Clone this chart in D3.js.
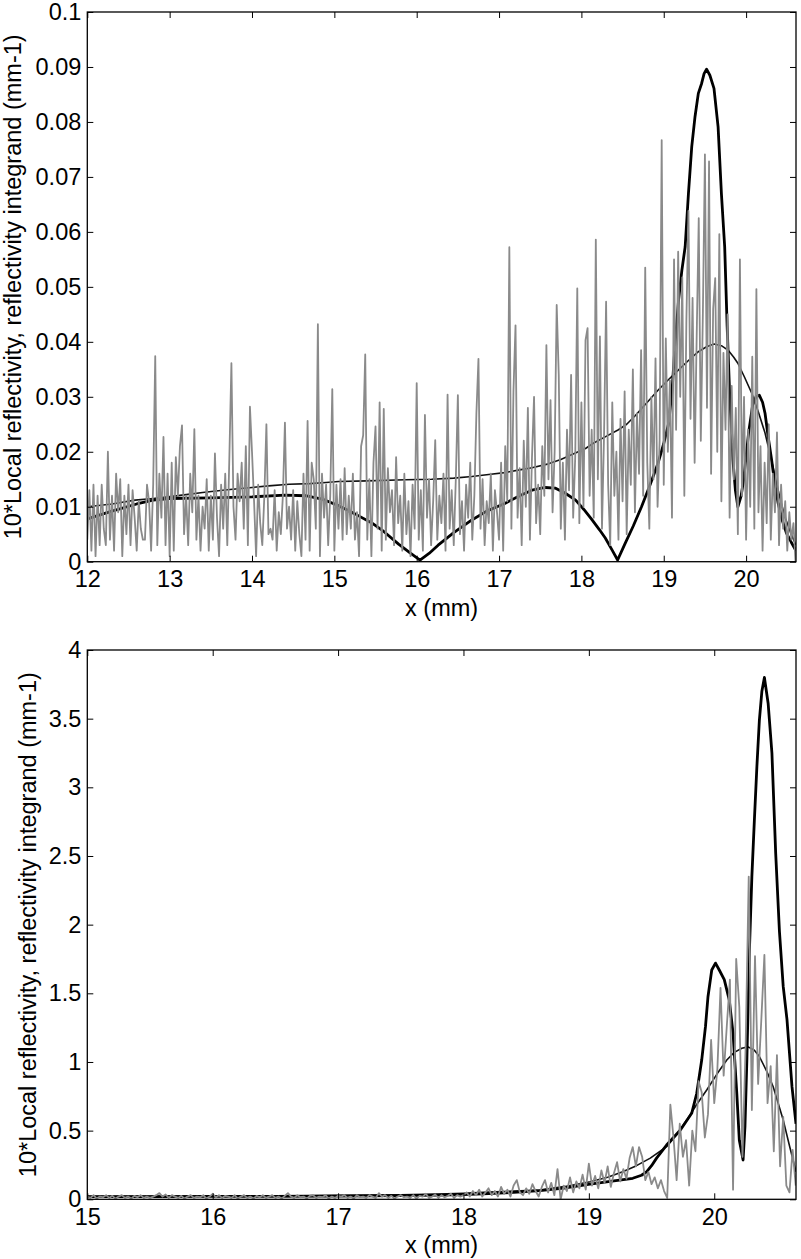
<!DOCTYPE html>
<html>
<head>
<meta charset="utf-8">
<script src="https://cdn.jsdelivr.net/npm/d3@7"></script>
<style>
  body { margin: 0; background: #fff; }
  text { font-family: "Liberation Sans", Arial, sans-serif; }
</style>
</head>
<body>
<div id="chart"></div>
<script>
// ---- data ----
// gray integrand, sampled every 0.025 mm
var grayStep = 0.025;
var topGrayStart = 12;
var topGray = [
  0.004,0.013,0.002,0.014,0.001,0.012,0.003,0.014,0.006,0.003,0.020,0.004,0.012,0.002,0.016,0.009,0.015,0.001,0.012,0.005,
  0.014,0.003,0.013,0.008,0.002,0.011,0.006,0.004,0.004,0.014,0.011,0.002,0.014,0.0374,0.003,0.016,0.008,0.0227,0.003,0.016,
  0.001,0.018,0.002,0.019,0.012,0.021,0.0248,0.005,0.012,0.003,0.016,0.009,0.0241,0.004,0.012,0.002,0.010,0.006,0.015,0.002,
  0.012,0.004,0.0197,0.008,0.001,0.014,0.006,0.016,0.003,0.019,0.0361,0.010,0.004,0.016,0.011,0.018,0.006,0.021,0.003,0.0282,
  0.020,0.011,0.001,0.014,0.007,0.003,0.012,0.025,0.005,0.006,0.004,0.013,0.002,0.009,0.005,0.012,0.0253,0.006,0.010,0.004,
  0.013,0.002,0.011,0.005,0.001,0.016,0.004,0.0256,0.002,0.018,0.015,0.006,0.0432,0.001,0.016,0.008,0.014,0.003,0.012,0.0314,
  0.002,0.014,0.006,0.015,0.004,0.017,0.005,0.012,0.006,0.016,0.004,0.009,0.001,0.021,0.023,0.0377,0.004,0.015,0.001,0.018,
  0.0246,0.006,0.029,0.002,0.0278,0.004,0.017,0.009,0.013,0.003,0.019,0.007,0.012,0.002,0.016,0.005,0.011,0.001,0.014,0.006,
  0.0325,0.004,0.013,0.002,0.0267,0.008,0.015,0.003,0.011,0.0221,0.004,0.012,0.007,0.016,0.002,0.0304,0.006,0.013,0.003,0.015,
  0.0303,0.005,0.011,0.002,0.014,0.008,0.018,0.004,0.012,0.027,0.0369,0.006,0.015,0.003,0.011,0.007,0.016,0.002,0.013,0.009,
  0.004,0.018,0.002,0.021,0.011,0.0572,0.006,0.031,0.043,0.008,0.017,0.003,0.022,0.010,0.028,0.004,0.019,0.030,0.007,0.014,
  0.005,0.021,0.012,0.0394,0.015,0.0294,0.009,0.020,0.0467,0.034,0.006,0.018,0.004,0.024,0.013,0.034,0.008,0.019,0.0497,0.007,
  0.029,0.010,0.0403,0.0425,0.012,0.024,0.008,0.0586,0.015,0.041,0.006,0.023,0.0473,0.014,0.003,0.029,0.012,0.020,0.004,0.026,
  0.011,0.031,0.005,0.024,0.014,0.035,0.009,0.027,0.016,0.0385,0.012,0.0535,0.018,0.006,0.030,0.015,0.037,0.010,0.022,0.0767,
  0.014,0.0406,0.020,0.033,0.008,0.055,0.024,0.0564,0.030,0.0517,0.012,0.044,0.0638,0.026,0.048,0.018,0.041,0.0625,0.022,0.045,
  0.0741,0.028,0.0728,0.016,0.046,0.0516,0.020,0.0596,0.011,0.038,0.024,0.045,0.008,0.032,0.015,0.028,0.005,0.055,0.012,0.030,
  0.004,0.024,0.010,0.0373,0.006,0.0496,0.009,0.021,0.002,0.018,0.007,0.025,0.004,0.016,0.009,0.0235,0.003,0.014,0.006,0.011,
  0.002,0.009,0.004,0.007,0.000
];

// thick black curve (top panel)
var topThickX = [12,12.3,12.6,12.8,13,13.5,14,14.4,14.65,14.85,15.05,15.25,15.45,15.6,15.78,15.92,16.04,16.15,16.26,16.45,
  16.67,16.85,17.07,17.25,17.4,17.56,17.68,17.8,17.93,18.03,18.13,18.22,18.29,18.37,18.44,18.53,18.63,18.73,18.83,18.93,
  19,19.06,19.1,19.14,19.18,19.22,19.26,19.3,19.34,19.38,19.42,19.46,19.49,19.52,19.56,19.61,19.66,19.7,19.74,19.77,
  19.8,19.84,19.87,19.9,19.94,19.97,20.03,20.08,20.12,20.16,20.2,20.23,20.27,20.31,20.35,20.39,20.44,20.49,20.55,20.606];
var topThickY = [0.0078,0.0092,0.0105,0.0112,0.0115,0.0116,0.0118,0.0121,0.012,0.0114,0.0102,0.0087,0.0071,0.0055,0.0032,0.0016,0.0003,0.0015,0.003,0.0053,
  0.0076,0.0092,0.0106,0.012,0.013,0.0135,0.0134,0.0125,0.0112,0.0095,0.0076,0.0058,0.0043,0.0022,0.0003,0.0033,0.0065,0.01,0.0138,0.0179,
  0.0215,0.0252,0.031,0.04,0.0476,0.053,0.0573,0.067,0.0755,0.081,0.0852,0.087,0.0888,0.0896,0.0885,0.0861,0.0791,0.067,0.0573,0.0428,
  0.0306,0.0185,0.013,0.01,0.012,0.0149,0.0234,0.0285,0.03,0.0303,0.029,0.027,0.0225,0.0185,0.014,0.0106,0.0075,0.0052,0.0035,0.002];

// thin black curve (top panel)
var topThinX = [12,12.3,12.58,12.8,12.98,13.2,13.4,13.7,14,14.2,14.45,14.7,14.9,15.05,15.4,15.86,16.18,16.45,16.67,16.9,
  17.07,17.25,17.4,17.6,17.75,17.9,18.05,18.15,18.3,18.45,18.55,18.65,18.8,18.93,19.05,19.18,19.3,19.42,19.52,19.61,
  19.7,19.78,19.85,19.9,19.98,20.07,20.15,20.23,20.3,20.36,20.42,20.48,20.54,20.606];
var topThinY = [0.01,0.0105,0.0112,0.0115,0.0118,0.0122,0.0126,0.0131,0.0135,0.0138,0.0141,0.0142,0.0144,0.0146,0.0147,0.0149,0.015,0.0152,0.0155,0.0159,
  0.0162,0.0167,0.0171,0.0178,0.0186,0.0196,0.0206,0.0216,0.0228,0.024,0.025,0.0265,0.029,0.0312,0.033,0.0349,0.0366,0.0382,0.0391,0.0396,
  0.0393,0.0385,0.0372,0.0361,0.0336,0.0306,0.0272,0.0234,0.019,0.015,0.011,0.0078,0.0053,0.003];

var botGrayStart = 15;
var botGray = [
  0.02,0.01,0.03,0.005,0.02,0.015,0.03,0.01,0.025,0.005,0.02,0.03,0.01,0.02,0.005,0.025,0.015,0.03,0.01,0.02,
  0.01,0.02,0.03,0.045,0.02,0.035,0.01,0.03,0.02,0.01,0.025,0.005,0.02,0.03,0.01,0.02,0.015,0.03,0.005,0.02,
  0.04,0.015,0.03,0.01,0.025,0.02,0.01,0.03,0.005,0.02,0.03,0.01,0.02,0.005,0.025,0.015,0.03,0.01,0.02,0.03,
  0.01,0.02,0.005,0.025,0.045,0.02,0.01,0.03,0.015,0.02,0.005,0.025,0.03,0.01,0.02,0.015,0.03,0.005,0.02,0.01,
  0.025,0.02,0.03,0.01,0.02,0.005,0.03,0.015,0.02,0.01,0.03,0.02,0.01,0.045,0.02,0.03,0.01,0.025,0.005,0.02,
  0.03,0.015,0.02,0.01,0.03,0.005,0.025,0.02,0.04,0.01,0.02,0.035,0.01,0.03,0.015,0.025,0.04,0.01,0.03,0.02,
  0.03,0.05,0.02,0.06,0.03,0.07,0.02,0.05,0.08,0.03,0.06,0.02,0.09,0.04,0.07,0.02,0.10,0.14,0.05,0.03,
  0.08,0.04,0.11,0.06,0.02,0.09,0.14,0.05,0.12,0.03,0.22,0.00,0.10,0.06,0.16,0.05,0.13,0.08,0.18,0.07,
  0.26,0.10,0.17,0.08,0.21,0.12,0.24,0.09,0.19,0.27,0.13,0.22,0.15,0.30,0.38,0.24,0.38,0.31,0.14,0.20,
  0.11,0.16,0.08,0.14,0.06,0.01,0.69,0.45,0.14,0.55,0.31,0.43,0.10,0.50,0.35,0.86,0.78,0.45,0.62,1.16,
  0.70,0.95,1.54,0.90,1.26,1.60,0.07,1.75,1.40,0.31,1.10,2.35,0.65,1.77,0.84,1.30,1.78,0.70,0.97,0.35,
  1.05,0.24,0.60,0.10,0.05,0.36,0.10
];

var botThickX = [15,15.5,16,16.5,17,17.5,17.8,18,18.2,18.4,18.61,18.8,19.01,19.2,19.35,19.42,19.46,19.5,19.54,19.62,
  19.73,19.82,19.86,19.9,19.93,19.95,19.98,20.01,20.04,20.08,20.12,20.15,20.18,20.2,20.23,20.245,20.26,20.28,20.3,20.32,
  20.34,20.36,20.38,20.4,20.43,20.46,20.49,20.52,20.55,20.58,20.62,20.652];
var botThickY = [0.02,0.02,0.021,0.022,0.024,0.027,0.03,0.035,0.042,0.051,0.063,0.082,0.11,0.135,0.153,0.175,0.2,0.245,0.3,0.395,
  0.505,0.626,0.77,1.014,1.257,1.475,1.67,1.72,1.67,1.6,1.45,1.21,0.77,0.43,0.286,0.53,1.01,1.8,2.35,2.76,
  3.15,3.49,3.7,3.8,3.61,3.25,2.52,1.95,1.55,1.31,0.82,0.55];

var botThinX = [15,15.5,16,16.5,17,17.5,17.8,18,18.2,18.4,18.61,18.8,19.01,19.15,19.27,19.38,19.49,19.62,19.7,19.78,
  19.86,19.94,20.02,20.1,20.16,20.22,20.27,20.32,20.36,20.42,20.47,20.51,20.55,20.6,20.652];
var botThinY = [0.02,0.021,0.022,0.024,0.027,0.032,0.038,0.044,0.052,0.06,0.068,0.092,0.128,0.16,0.2,0.245,0.3,0.383,0.47,0.577,
  0.69,0.796,0.91,1.014,1.07,1.1,1.11,1.085,1.04,0.93,0.82,0.7,0.577,0.39,0.2];

// tick labels
var topXTicks = [12,13,14,15,16,17,18,19,20];
var topYTicks = [0,0.01,0.02,0.03,0.04,0.05,0.06,0.07,0.08,0.09,0.1];
var botXTicks = [15,16,17,18,19,20];
var botYTicks = [0,0.5,1,1.5,2,2.5,3,3.5,4];

var yLabel = "10*Local reflectivity, reflectivity integrand (mm-1)";
var xLabel = "x (mm)";

// ---- drawing ----
var svgWidth = 801, svgHeight = 1259;
var fontSize = 23.5;

var svg = d3.select("#chart").append("svg")
  .attr("width", svgWidth)
  .attr("height", svgHeight)
  .style("background", "#fff");

function zipXY(xs, ys) {
  return xs.map(function(x, i) { return [x, ys[i]]; });
}
function gridXY(start, vals) {
  return vals.map(function(v, i) { return [start + i * grayStep, v]; });
}

function drawPanel(p) {
  var x = d3.scaleLinear().domain(p.xDomain).range([p.left, p.right]);
  var y = d3.scaleLinear().domain(p.yDomain).range([p.bottom, p.top]);
  var g = svg.append("g");

  var clipId = "clip" + p.id;
  svg.append("clipPath").attr("id", clipId)
    .append("rect")
    .attr("x", p.left).attr("y", p.top)
    .attr("width", p.right - p.left).attr("height", p.bottom - p.top);

  var line = d3.line().x(d => x(d[0])).y(d => y(d[1]));
  var lines = g.append("g").attr("clip-path", "url(#" + clipId + ")");

  lines.append("path").datum(p.thin)
    .attr("d", line).attr("fill", "none")
    .attr("stroke", "#111").attr("stroke-width", 1.6).attr("stroke-linejoin", "round");
  lines.append("path").datum(p.thick)
    .attr("d", line).attr("fill", "none")
    .attr("stroke", "#000").attr("stroke-width", 2.8).attr("stroke-linejoin", "round");
  lines.append("path").datum(p.gray)
    .attr("d", line).attr("fill", "none")
    .attr("stroke", "#8a8a8a").attr("stroke-width", 1.8).attr("stroke-linejoin", "round");

  // axes: ticks inside on all four sides
  var ax = g.append("g");
  ax.append("g").attr("transform", `translate(0, ${p.bottom})`)
    .call(d3.axisBottom(x).tickValues(p.xTicks).tickSize(-6).tickPadding(9).tickFormat(d3.format("~g")));
  ax.append("g").attr("transform", `translate(${p.left}, 0)`)
    .call(d3.axisLeft(y).tickValues(p.yTicks).tickSize(-6).tickPadding(6).tickFormat(d3.format("~g")));
  ax.append("g").attr("transform", `translate(0, ${p.top})`)
    .call(d3.axisTop(x).tickValues(p.xTicks).tickSize(-6).tickFormat(""));
  ax.append("g").attr("transform", `translate(${p.right}, 0)`)
    .call(d3.axisRight(y).tickValues(p.yTicks).tickSize(-6).tickFormat(""));
  ax.selectAll(".domain").remove();
  ax.selectAll("g").attr("font-size", null).attr("font-family", null);
  ax.selectAll("text").attr("fill", "#000").style("font-size", fontSize + "px");
  ax.selectAll(".tick line").attr("stroke", "#000").attr("stroke-width", 1);

  g.append("rect")
    .attr("x", p.left).attr("y", p.top)
    .attr("width", p.right - p.left).attr("height", p.bottom - p.top)
    .attr("fill", "none").attr("stroke", "#000").attr("stroke-width", 1.3);

  // labels
  g.append("text")
    .attr("x", (p.left + p.right) / 2)
    .attr("y", p.bottom + 54)
    .attr("text-anchor", "middle")
    .style("font-size", fontSize + "px")
    .text(xLabel);
  g.append("text")
    .attr("transform", `translate(${p.yLabelX}, ${(p.top + p.bottom) / 2}) rotate(-90)`)
    .attr("text-anchor", "middle")
    .style("font-size", fontSize + "px")
    .text(yLabel);
}

drawPanel({
  id: "top",
  left: 87.3, right: 796, top: 12, bottom: 561.7,
  xDomain: [12, 20.606], yDomain: [0, 0.1],
  xTicks: topXTicks, yTicks: topYTicks,
  yLabelX: 21,
  gray: gridXY(topGrayStart, topGray),
  thick: zipXY(topThickX, topThickY),
  thin: zipXY(topThinX, topThinY)
});

drawPanel({
  id: "bot",
  left: 87.3, right: 796, top: 650, bottom: 1199.3,
  xDomain: [15, 20.652], yDomain: [0, 4],
  xTicks: botXTicks, yTicks: botYTicks,
  yLabelX: 36,
  gray: gridXY(botGrayStart, botGray),
  thick: zipXY(botThickX, botThickY),
  thin: zipXY(botThinX, botThinY)
});
</script>
</body>
</html>
